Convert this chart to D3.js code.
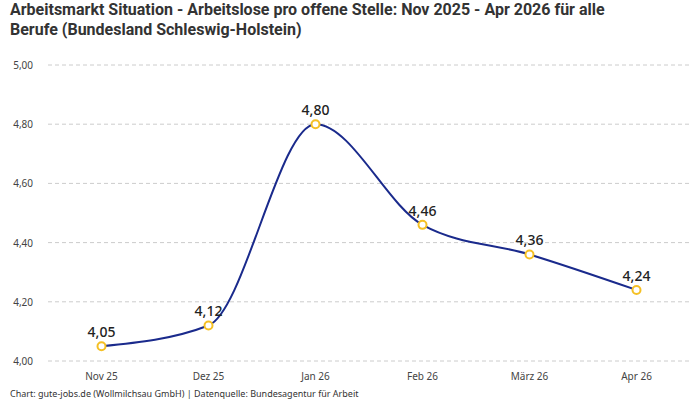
<!DOCTYPE html><html><head><meta charset="utf-8"><script src="https://cdn.jsdelivr.net/npm/d3@7"></script>
<style>body{margin:0;background:#fff}text{font-family:"Noto Sans",sans-serif}</style></head><body>
<svg id="c" width="700" height="400"></svg>
<script>
const categories=["Nov 25","Dez 25","Jan 26","Feb 26","März 26","Apr 26"];
const values=[4.05,4.12,4.80,4.46,4.36,4.24];
const yTicks=[4.0,4.2,4.4,4.6,4.8,5.0];
const svg=d3.select("#c");
const fmt=v=>v.toFixed(2).replace(".",",");
const x=d3.scalePoint().domain(categories).range([48,690]).padding(0.5);
const y=d3.scaleLinear().domain([4,5]).range([361,65]);
svg.append("text").attr("x",10).attr("y",15).attr("font-size",16).attr("font-weight","bold").attr("fill","#333").style("font-family","Roboto").text("Arbeitsmarkt Situation - Arbeitslose pro offene Stelle: Nov 2025 - Apr 2026 für alle");
svg.append("text").attr("x",10).attr("y",35).attr("font-size",16).attr("font-weight","bold").attr("fill","#333").style("font-family","Roboto").text("Berufe (Bundesland Schleswig-Holstein)");
const g=svg.append("g");
yTicks.forEach(t=>{
 g.append("line").attr("x1",48).attr("x2",690).attr("y1",y(t)).attr("y2",y(t)).attr("stroke","#ccc").attr("stroke-dasharray","4,3");
 g.append("text").attr("x",33).attr("y",y(t)+4).attr("text-anchor","end").attr("font-size",10).attr("fill","#444").text(fmt(t));
});
categories.forEach(c=>g.append("text").attr("x",x(c)).attr("y",380).attr("text-anchor","middle").attr("font-size",10).attr("fill","#444").text(c));
const data=categories.map((c,i)=>({c,v:values[i]}));
g.append("path").datum(data).attr("fill","none").attr("stroke","#1a2a8c").attr("stroke-width",2)
 .attr("d",d3.line().x(d=>x(d.c)).y(d=>y(d.v)).curve(d3.curveMonotoneX));
data.forEach(d=>{
 g.append("circle").attr("cx",x(d.c)).attr("cy",y(d.v)).attr("r",4).attr("fill","#fff").attr("stroke","#f5c024").attr("stroke-width",2);
 g.append("text").attr("x",x(d.c)).attr("y",y(d.v)-9).attr("text-anchor","middle").attr("font-size",14).attr("font-weight",500).attr("fill","#222").text(fmt(d.v));
});
svg.append("text").attr("x",10).attr("y",397).attr("font-size",9).attr("fill","#333").text("Chart: gute-jobs.de (Wollmilchsau GmbH) | Datenquelle: Bundesagentur für Arbeit");
</script></body></html>
